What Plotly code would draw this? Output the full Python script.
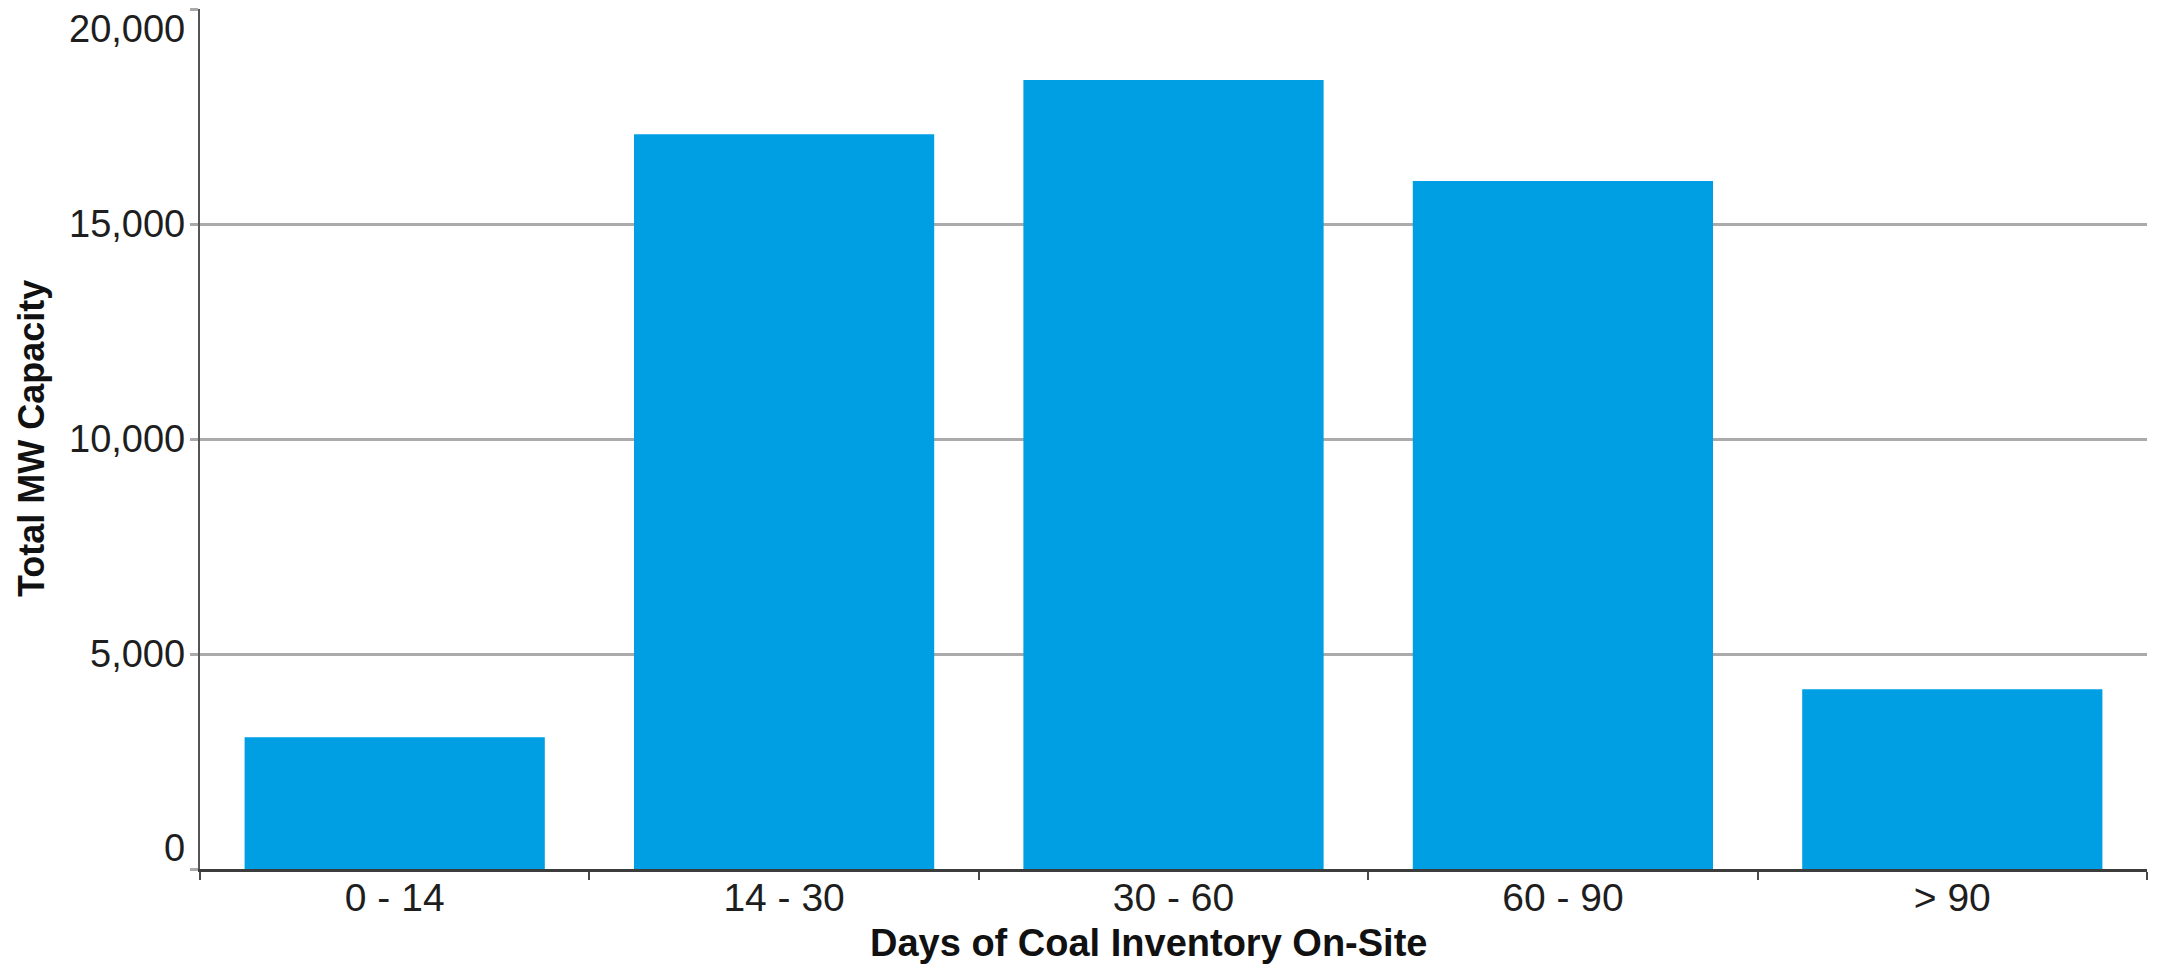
import plotly.graph_objects as go

# Inventory buckets and generating capacity in each
categories = ["0 - 14", "14 - 30", "30 - 60", "60 - 90", "> 90"]
capacity_mw = [3065, 17085, 18350, 16000, 4180]

# Y-axis ticks
y_ticks = [0, 5000, 10000, 15000, 20000]
y_tick_text = ["0", "5,000", "10,000", "15,000", "20,000"]

x_title = "Days of Coal Inventory On-Site"
y_title = "Total MW Capacity"

FONT = "Liberation Sans, Arial, sans-serif"
W, H = 2160, 969
ML, MR, MT, MB = 200, 13, 9, 100
plot_w = W - ML - MR

fig = go.Figure(
    go.Bar(
        x=categories,
        y=capacity_mw,
        marker=dict(color="#009FE3", line=dict(width=0)),
        hoverinfo="x+y",
    )
)

# y tick labels: end labels are nudged inward so they stay inside the canvas
annotations = []
for v, t in zip(y_ticks, y_tick_text):
    shift = 0
    if v == y_ticks[-1]:
        shift = -20
    elif v == y_ticks[0]:
        shift = 21
    annotations.append(
        dict(
            x=0, xref="paper", y=v, yref="y",
            text=t, showarrow=False,
            xanchor="right", yanchor="middle",
            xshift=-13, yshift=shift,
            font=dict(family=FONT, size=38, color="#1e1e1e"),
        )
    )

annotations.append(
    dict(
        x=(1148 - ML) / plot_w, xref="paper", y=0, yref="paper",
        yshift=-74, text=f"<b>{x_title}</b>", showarrow=False,
        xanchor="center", yanchor="middle",
        font=dict(family=FONT, size=38, color="#111111"),
    )
)
annotations.append(
    dict(
        x=(31 - ML) / plot_w, xref="paper", y=0.5, yref="paper",
        text=f"<b>{y_title}</b>", showarrow=False, textangle=-90,
        xanchor="center", yanchor="middle",
        font=dict(family=FONT, size=36, color="#111111"),
    )
)

fig.update_layout(
    width=W,
    height=H,
    margin=dict(l=ML, r=MR, t=MT, b=MB, pad=0),
    paper_bgcolor="white",
    plot_bgcolor="white",
    showlegend=False,
    bargap=0.229,
    annotations=annotations,
    xaxis=dict(
        showline=True,
        linecolor="#3c3c3c",
        linewidth=2.5,
        ticks="outside",
        tickson="boundaries",
        ticklen=8,
        tickwidth=1.5,
        tickcolor="#4a4a4a",
        ticklabelstandoff=-8,
        showgrid=False,
        tickfont=dict(family=FONT, size=39, color="#1e1e1e"),
    ),
    yaxis=dict(
        range=[0, 20000],
        tickvals=y_ticks,
        showticklabels=False,
        showline=True,
        linecolor="#555555",
        linewidth=1.5,
        ticks="outside",
        ticklen=8,
        tickwidth=2.5,
        tickcolor="#aaaaaa",
        showgrid=True,
        gridcolor="#aaaaaa",
        gridwidth=2.5,
        zeroline=False,
    ),
)

fig.write_html("out.html")
